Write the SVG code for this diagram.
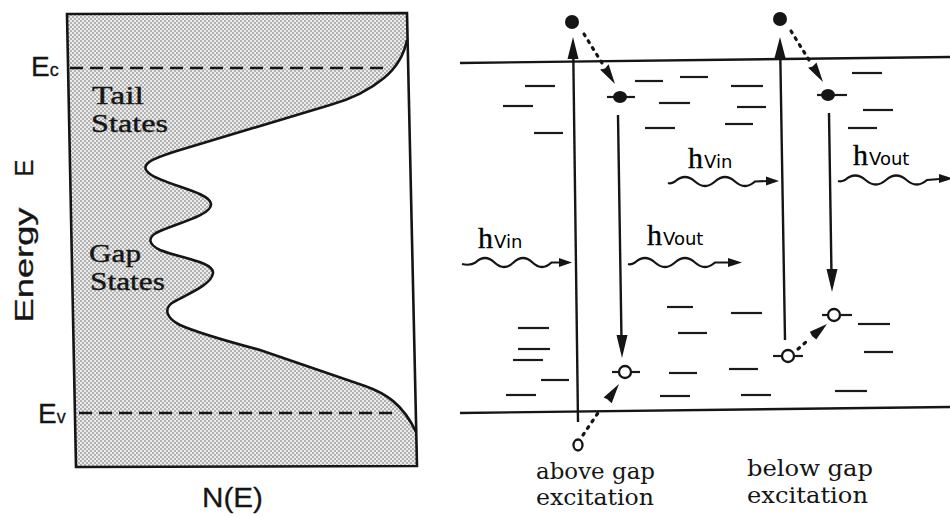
<svg xmlns="http://www.w3.org/2000/svg" width="950" height="517" viewBox="0 0 950 517">
<defs>
<pattern id="stipple" width="4" height="4" patternUnits="userSpaceOnUse">
<rect width="4" height="4" fill="#ececec"/>
<rect x="0" y="0" width="2" height="2" fill="#b2b2b2"/>
<rect x="2" y="2" width="2" height="2" fill="#b2b2b2"/>
</pattern>
<style>
.ln{stroke:#151515;stroke-width:2.4;fill:none}
.box{stroke:#151515;stroke-width:2.6;fill:none}
.dash{stroke:#151515;stroke-width:2.5;stroke-dasharray:13 7;fill:none}
.lvl{stroke:#1a1a1a;stroke-width:2.2}
.dots{stroke:#151515;stroke-width:3.2;stroke-dasharray:2 6;stroke-linecap:round;fill:none}
.wave{stroke:#151515;stroke-width:2.2;fill:none}
.head{fill:#151515}
.el{fill:#151515}
.hole{fill:#fff;stroke:#151515;stroke-width:2.3}
.sans{font-family:"Liberation Sans",Arial,sans-serif;fill:#151515;stroke:#151515;stroke-width:0.3}
.serif{font-family:"Liberation Serif","Times New Roman",serif;fill:#151515;stroke:#151515;stroke-width:0.4}
.dserif{font-family:"DejaVu Serif",serif;fill:#151515}
.h{font-family:"Liberation Serif",serif;font-size:30px;stroke:#151515;stroke-width:0.4}
.nu{font-family:"DejaVu Sans",sans-serif;font-size:18px}
</style>
</defs>
<rect width="950" height="517" fill="#ffffff"/>

<g id="dos-panel">
<path fill="url(#stipple)" d="M67,14 L407,13 L407,40 C404,55 396,68 384,78 C372,88 355,98 330,105 L180,150 C150,159 138,165 150,174 C165,185 210,192 211,204 C212,216 170,225 156,233 C148,238 148,244 160,250 C180,258 214,262 213,273 C212,285 185,295 172,303 C164,309 166,318 180,325 C200,334 230,342 260,350 L365,386 C385,393 403,404 416,432 L417,466 L76,467 Z"/>
<path class="box" d="M407,40 C404,55 396,68 384,78 C372,88 355,98 330,105 L180,150 C150,159 138,165 150,174 C165,185 210,192 211,204 C212,216 170,225 156,233 C148,238 148,244 160,250 C180,258 214,262 213,273 C212,285 185,295 172,303 C164,309 166,318 180,325 C200,334 230,342 260,350 L365,386 C385,393 403,404 416,432"/>
<polygon class="box" points="67,14 407,13 417,466 76,467"/>
<line class="dash" x1="70" y1="68" x2="386" y2="68"/>
<line class="dash" x1="79" y1="413" x2="394" y2="413"/>
<text class="sans" x="31" y="76" font-size="28">E<tspan font-size="18">c</tspan></text>
<text class="sans" x="38" y="423" font-size="28">E<tspan font-size="18">v</tspan></text>
<text class="serif" x="92" y="104" font-size="26" textLength="52" lengthAdjust="spacingAndGlyphs">Tail</text>
<text class="serif" x="91" y="132" font-size="26" textLength="77" lengthAdjust="spacingAndGlyphs">States</text>
<text class="serif" x="89" y="262" font-size="26" textLength="52" lengthAdjust="spacingAndGlyphs">Gap</text>
<text class="serif" x="90" y="290" font-size="26" textLength="75" lengthAdjust="spacingAndGlyphs">States</text>
<text class="sans" font-size="26" text-anchor="middle" transform="translate(33,168) rotate(-90)">E</text>
<text class="sans" font-size="25" text-anchor="middle" textLength="115" lengthAdjust="spacingAndGlyphs" transform="translate(33,265) rotate(-90)">Energy</text>
<text class="sans" x="202" y="507" font-size="28" textLength="61" lengthAdjust="spacingAndGlyphs">N(E)</text>
</g>

<g id="band-edges">
<line class="ln" x1="460" y1="63" x2="950" y2="57"/>
<line class="ln" x1="460" y1="413" x2="950" y2="407"/>
</g>

<g id="levels">
<line class="lvl" x1="525" y1="86" x2="555" y2="86"/>
<line class="lvl" x1="503" y1="106" x2="533" y2="106"/>
<line class="lvl" x1="534" y1="133" x2="563" y2="133"/>
<line class="lvl" x1="635" y1="81" x2="663" y2="81"/>
<line class="lvl" x1="680" y1="77" x2="708" y2="77"/>
<line class="lvl" x1="731" y1="86" x2="763" y2="86"/>
<line class="lvl" x1="659" y1="103" x2="690" y2="103"/>
<line class="lvl" x1="737" y1="107" x2="766" y2="107"/>
<line class="lvl" x1="645" y1="128" x2="675" y2="128"/>
<line class="lvl" x1="725" y1="124" x2="753" y2="124"/>
<line class="lvl" x1="852" y1="73" x2="882" y2="73"/>
<line class="lvl" x1="863" y1="110" x2="893" y2="110"/>
<line class="lvl" x1="848" y1="128" x2="877" y2="128"/>
<line class="lvl" x1="518" y1="328" x2="549" y2="328"/>
<line class="lvl" x1="518" y1="349" x2="550" y2="349"/>
<line class="lvl" x1="513" y1="360" x2="543" y2="360"/>
<line class="lvl" x1="541" y1="380" x2="569" y2="380"/>
<line class="lvl" x1="506" y1="395" x2="536" y2="395"/>
<line class="lvl" x1="667" y1="307" x2="693" y2="307"/>
<line class="lvl" x1="731" y1="313" x2="762" y2="313"/>
<line class="lvl" x1="678" y1="333" x2="707" y2="333"/>
<line class="lvl" x1="669" y1="373" x2="697" y2="373"/>
<line class="lvl" x1="729" y1="369" x2="758" y2="369"/>
<line class="lvl" x1="660" y1="396" x2="690" y2="396"/>
<line class="lvl" x1="741" y1="395" x2="771" y2="395"/>
<line class="lvl" x1="858" y1="324" x2="890" y2="324"/>
<line class="lvl" x1="864" y1="352" x2="893" y2="352"/>
<line class="lvl" x1="835" y1="391" x2="867" y2="391"/>
</g>

<g id="connectors">
<line class="ln" x1="578" y1="422" x2="573.3" y2="56"/>
<polygon class="head" points="573,37 567.5,59 578.5,59"/>
<line class="dots" x1="584" y1="34" x2="602" y2="63"/>
<polygon class="head" points="615,84 600,69.6 605,68.5 608.6,64.3"/>
<line class="ln" x1="618" y1="115" x2="621.5" y2="340"/>
<polygon class="head" points="622,358 616.5,335 627.5,335"/>
<line class="dots" x1="583" y1="435" x2="600" y2="410"/>
<polygon class="head" points="619,384 611.7,403.3 607,399 603.5,397.6"/>
<line class="ln" x1="785" y1="340" x2="780.3" y2="56"/>
<polygon class="head" points="780,37 774.5,58 785.5,58"/>
<line class="dots" x1="791" y1="31" x2="809" y2="60"/>
<polygon class="head" points="823,82 808.1,67.8 812.5,66.5 816.5,62.4"/>
<line class="ln" x1="829" y1="113" x2="831.5" y2="275"/>
<polygon class="head" points="832,292 826.5,269 837.5,269"/>
<line class="dots" x1="798" y1="349" x2="806" y2="342"/>
<polygon class="head" points="827,324 816.3,339.4 812,336 809.9,331.7"/>
<path class="wave" d="M462,264 Q470,266 475.5,262.5 q9.5,-9 19,0 t19,0 t19,0 t19,0 L562,262.5"/>
<polygon class="head" points="572,262.5 559,258 559,267"/>
<path class="wave" d="M628,264 Q631,265 635,262.5 q10,-9 20,0 t20,0 t20,0 t20,0 L730,262.5"/>
<polygon class="head" points="742,262.5 728,258 728,267"/>
<path class="wave" d="M668,183 Q671,184 675,181.5 q10,-9 20,0 t20,0 t20,0 t20,0 L768,181"/>
<polygon class="head" points="779,181 766,176.5 766,185.5"/>
<path class="wave" d="M838,181 Q841,182 845,180 q10.25,-9 20.5,0 t20.5,0 t20.5,0 t20.5,0 L940,179"/>
<polygon class="head" points="953,178.5 939,174 939,183"/>
</g>

<g id="carriers">
<circle class="el" cx="572" cy="22" r="7"/>
<line class="lvl" x1="607" y1="97" x2="635" y2="97"/>
<ellipse class="el" cx="620" cy="97" rx="7" ry="6"/>
<line class="lvl" x1="612" y1="372" x2="640" y2="372"/>
<circle class="hole" cx="625" cy="372" r="6"/>
<ellipse class="hole" cx="578" cy="445" rx="4.5" ry="5.5"/>
<circle class="el" cx="780" cy="19" r="7"/>
<line class="lvl" x1="817" y1="95" x2="847" y2="95"/>
<ellipse class="el" cx="828" cy="95" rx="7" ry="6"/>
<line class="lvl" x1="822" y1="315" x2="852" y2="315"/>
<circle class="hole" cx="834" cy="315" r="6"/>
<line class="lvl" x1="773" y1="356" x2="803" y2="356"/>
<circle class="hole" cx="788" cy="356" r="6"/>
</g>

<g id="labels">
<text x="478" y="248"><tspan class="h">h</tspan><tspan class="nu" dx="1">Vin</tspan></text>
<text x="647" y="245"><tspan class="h">h</tspan><tspan class="nu" dx="1">Vout</tspan></text>
<text x="688" y="168"><tspan class="h">h</tspan><tspan class="nu" dx="1">Vin</tspan></text>
<text x="853" y="165"><tspan class="h">h</tspan><tspan class="nu" dx="1">Vout</tspan></text>
<text class="dserif" x="536" y="479" font-size="22" textLength="119" lengthAdjust="spacingAndGlyphs">above gap</text>
<text class="dserif" x="536" y="505" font-size="22" textLength="118" lengthAdjust="spacingAndGlyphs">excitation</text>
<text class="dserif" x="747" y="476" font-size="22" textLength="126" lengthAdjust="spacingAndGlyphs">below gap</text>
<text class="dserif" x="747" y="503" font-size="22" textLength="121" lengthAdjust="spacingAndGlyphs">excitation</text>
</g>
</svg>
